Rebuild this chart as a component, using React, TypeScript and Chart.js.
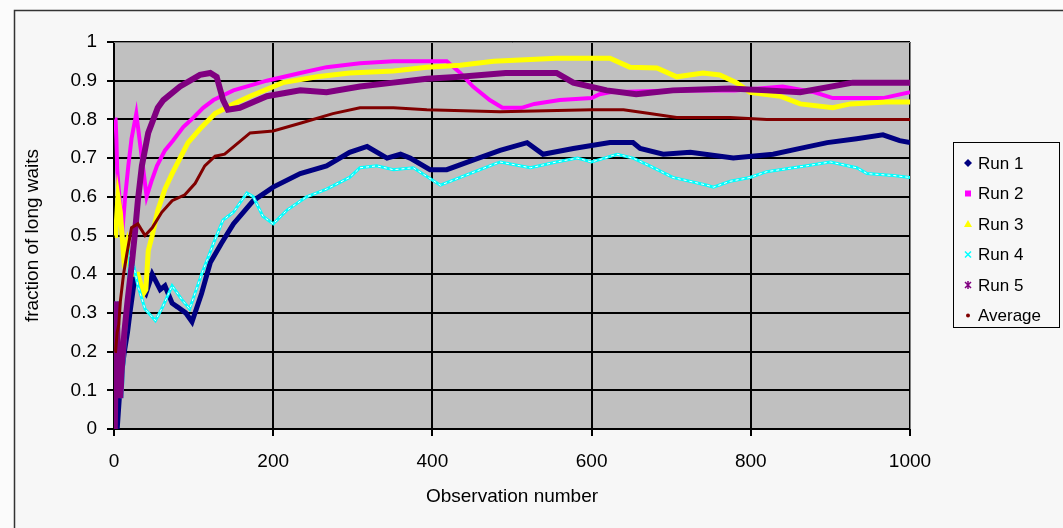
import React, { useEffect, useRef } from 'react';
import { Chart, registerables } from 'chart.js';

Chart.register(...registerables);

const FONT = "'Liberation Sans', Arial, sans-serif";

const seriesNames = ['Run 1', 'Run 2', 'Run 3', 'Run 4', 'Run 5', 'Average'];
const seriesColors = ['#000080', '#ff00ff', '#ffff00', '#00ffff', '#800080', '#800000'];
const xTickValues = [0, 200, 400, 600, 800, 1000];
const yTickValues = [0, 0.1, 0.2, 0.3, 0.4, 0.5, 0.6, 0.7, 0.8, 0.9, 1];
const xTitle = 'Observation number';
const yTitle = 'fraction of long waits';

const run1Obs = [1, 4, 8, 13, 17, 20, 26, 32, 40, 48, 53, 58, 64, 73, 80, 90, 98, 110, 121, 135, 150, 175, 200, 234, 267, 296, 318, 343, 360, 372, 397, 418, 451, 485, 519, 539, 577, 623, 652, 661, 690, 724, 778, 828, 862, 896, 933, 966, 987, 1000];
const run1Val = [0, 0, 0.12, 0.2, 0.25, 0.3, 0.39, 0.37, 0.35, 0.4, 0.38, 0.36, 0.37, 0.325, 0.315, 0.3, 0.277, 0.35, 0.43, 0.48, 0.53, 0.59, 0.625, 0.66, 0.68, 0.715, 0.73, 0.7, 0.71, 0.7, 0.67, 0.67, 0.695, 0.72, 0.74, 0.71, 0.725, 0.74, 0.74, 0.725, 0.71, 0.715, 0.7, 0.71, 0.725, 0.74, 0.75, 0.76, 0.745, 0.74];

const run2Obs = [1, 2, 3, 4, 6, 8, 10, 14, 18, 22, 28, 35, 41, 47, 54, 64, 74, 87, 100, 112, 125, 150, 192, 234, 267, 309, 351, 390, 418, 435, 451, 472, 488, 512, 528, 560, 600, 610, 623, 700, 780, 840, 880, 903, 933, 966, 1000];
const run2Val = [0.8, 0.8, 0.75, 0.67, 0.62, 0.57, 0.5, 0.6, 0.68, 0.75, 0.815, 0.7, 0.6, 0.64, 0.68, 0.72, 0.745, 0.78, 0.805, 0.83, 0.85, 0.875, 0.9, 0.92, 0.935, 0.945, 0.95, 0.95, 0.95, 0.92, 0.885, 0.85, 0.83, 0.83, 0.84, 0.85, 0.855, 0.865, 0.87, 0.875, 0.875, 0.885, 0.87, 0.855, 0.855, 0.855, 0.87];

const run3Obs = [1, 2, 5, 8, 12, 16, 20, 25, 30, 37, 40, 43, 48, 55, 64, 73, 83, 93, 110, 127, 150, 171, 212, 255, 296, 351, 393, 435, 477, 556, 623, 648, 682, 707, 740, 761, 782, 799, 837, 862, 903, 925, 970, 1000];
const run3Val = [0.5, 0.5, 0.6, 0.56, 0.45, 0.48, 0.42, 0.4, 0.4, 0.35, 0.36, 0.46, 0.5, 0.565, 0.62, 0.66, 0.7, 0.74, 0.78, 0.815, 0.84, 0.86, 0.895, 0.91, 0.92, 0.925, 0.935, 0.94, 0.95, 0.958, 0.958, 0.935, 0.933, 0.91, 0.92, 0.915, 0.895, 0.87, 0.86, 0.84, 0.83, 0.84, 0.845, 0.845];

const run4Obs = [1, 3, 6, 10, 15, 20, 25, 30, 39, 52, 61, 73, 85, 95, 110, 127, 137, 150, 167, 175, 187, 200, 217, 242, 267, 296, 309, 330, 351, 376, 410, 435, 472, 485, 523, 556, 582, 600, 632, 652, 673, 702, 745, 753, 774, 799, 820, 870, 900, 933, 946, 979, 1000];
const run4Val = [0, 0.33, 0.17, 0.08, 0.27, 0.45, 0.42, 0.37, 0.31, 0.28, 0.315, 0.37, 0.335, 0.31, 0.4, 0.49, 0.54, 0.56, 0.61, 0.6, 0.55, 0.53, 0.565, 0.6, 0.62, 0.65, 0.675, 0.68, 0.67, 0.675, 0.63, 0.65, 0.68, 0.69, 0.675, 0.69, 0.7, 0.69, 0.71, 0.7, 0.68, 0.65, 0.63, 0.625, 0.64, 0.65, 0.665, 0.68, 0.69, 0.675, 0.66, 0.655, 0.65];

const run5Obs = [1, 3, 5, 8, 10, 13, 17, 22, 26, 30, 35, 43, 55, 62, 83, 108, 121, 129, 137, 143, 158, 192, 234, 267, 309, 351, 393, 435, 492, 556, 577, 619, 656, 702, 774, 820, 862, 928, 1000];
const run5Val = [0, 0.33, 0.2, 0.08, 0.16, 0.25, 0.33, 0.42, 0.5, 0.59, 0.68, 0.765, 0.83, 0.85, 0.885, 0.915, 0.92, 0.91, 0.85, 0.825, 0.83, 0.86, 0.875, 0.87, 0.885, 0.895, 0.905, 0.91, 0.92, 0.92, 0.895, 0.875, 0.865, 0.875, 0.88, 0.875, 0.87, 0.895, 0.895];

const avgObs = [1, 2, 4, 6, 8, 12, 16, 22, 30, 39, 48, 60, 73, 89, 102, 114, 127, 139, 171, 200, 234, 275, 309, 351, 393, 485, 600, 640, 673, 707, 774, 820, 1000];
const avgVal = [0.2, 0.2, 0.25, 0.27, 0.33, 0.4, 0.45, 0.52, 0.53, 0.5, 0.52, 0.56, 0.59, 0.605, 0.635, 0.68, 0.705, 0.71, 0.765, 0.77, 0.79, 0.815, 0.83, 0.83, 0.825, 0.82, 0.825, 0.825, 0.815, 0.805, 0.805, 0.8, 0.8];

const toPoints = (xs: number[], ys: number[]) => xs.map((x, i) => ({ x, y: ys[i] }));

function drawMarker(ctx: CanvasRenderingContext2D, idx: number, x: number, y: number) {
  const c = seriesColors[idx];
  ctx.save();
  ctx.fillStyle = c;
  ctx.strokeStyle = c;
  ctx.lineWidth = 1.5;
  ctx.beginPath();
  if (idx === 0) {
    ctx.moveTo(x, y - 4); ctx.lineTo(x + 4, y); ctx.lineTo(x, y + 4); ctx.lineTo(x - 4, y); ctx.closePath(); ctx.fill();
  } else if (idx === 1) {
    ctx.fillRect(x - 3, y - 3, 6, 6);
  } else if (idx === 2) {
    ctx.moveTo(x, y - 4); ctx.lineTo(x + 4, y + 3); ctx.lineTo(x - 4, y + 3); ctx.closePath(); ctx.fill();
  } else if (idx === 3) {
    ctx.moveTo(x - 3, y - 3); ctx.lineTo(x + 3, y + 3); ctx.moveTo(x + 3, y - 3); ctx.lineTo(x - 3, y + 3); ctx.stroke();
  } else if (idx === 4) {
    ctx.moveTo(x - 3, y - 3); ctx.lineTo(x + 3, y + 3); ctx.moveTo(x + 3, y - 3); ctx.lineTo(x - 3, y + 3);
    ctx.moveTo(x, y - 4); ctx.lineTo(x, y + 4); ctx.stroke();
  } else {
    ctx.arc(x, y, 2, 0, Math.PI * 2); ctx.fill();
  }
  ctx.restore();
}

const decorPlugin = {
  id: 'decor',
  beforeDraw(chart: any) {
    const { ctx, chartArea: a, width, height } = chart;
    ctx.save();
    ctx.fillStyle = '#fbfbfb';
    ctx.fillRect(0, 0, width, height);
    ctx.fillStyle = '#f7f7f7';
    ctx.fillRect(14, 10, width, height);
    ctx.strokeStyle = '#333';
    ctx.lineWidth = 1.5;
    ctx.strokeRect(14.5, 10.5, width + 20, height + 20);
    ctx.fillStyle = '#c0c0c0';
    ctx.fillRect(a.left, a.top, a.right - a.left, a.bottom - a.top);
    ctx.restore();
  },
  afterDraw(chart: any) {
    const { ctx, chartArea: a } = chart;
    ctx.save();
    ctx.strokeStyle = '#808080';
    ctx.lineWidth = 1;
    ctx.beginPath();
    ctx.moveTo(a.left, a.top + 0.5);
    ctx.lineTo(a.right + 0.5, a.top + 0.5);
    ctx.lineTo(a.right + 0.5, a.bottom);
    ctx.stroke();
    const lx = 953, ly = 142, lw = 106, lh = 185;
    ctx.fillStyle = '#f7f7f7';
    ctx.fillRect(lx, ly, lw, lh);
    ctx.strokeStyle = '#000';
    ctx.lineWidth = 1;
    ctx.strokeRect(lx + 0.5, ly + 0.5, lw, lh);
    ctx.font = `17px ${FONT}`;
    ctx.textAlign = 'left';
    ctx.textBaseline = 'middle';
    seriesNames.forEach((name, i) => {
      const y = 163 + i * 30.5;
      drawMarker(ctx, i, 968, y);
      ctx.fillStyle = '#000';
      ctx.fillText(name, 978, y + 1);
    });
    ctx.restore();
  },
};

export default function App() {
  const ref = useRef<HTMLCanvasElement | null>(null);
  useEffect(() => {
    if (!ref.current) return;
    const widths = [5, 4, 5, 3, 6, 3];
    const obsList = [run1Obs, run2Obs, run3Obs, run4Obs, run5Obs, avgObs];
    const valList = [run1Val, run2Val, run3Val, run4Val, run5Val, avgVal];
    const orders = [6, 5, 4, 3, 2, 1];
    const datasets: any[] = seriesNames.map((name, i) => ({
      label: name,
      data: toPoints(obsList[i], valList[i]),
      borderColor: seriesColors[i],
      backgroundColor: seriesColors[i],
      borderWidth: widths[i],
      pointRadius: 0,
      tension: 0,
      fill: false,
      order: orders[i],
    }));
    datasets.push({
      label: 'Run 4 highlight',
      data: toPoints(run4Obs, run4Val),
      borderColor: '#ffffff',
      borderWidth: 1,
      borderDash: [3, 3],
      pointRadius: 0,
      tension: 0,
      fill: false,
      order: 2.9,
    });
    const tickFont = { family: FONT, size: 19 };
    const chart = new Chart(ref.current, {
      type: 'line',
      data: { datasets },
      options: {
        animation: false,
        responsive: false,
        devicePixelRatio: 1,
        layout: { padding: { left: 14, top: 42, right: 153, bottom: 0 } },
        plugins: { legend: { display: false }, tooltip: { enabled: false } },
        scales: {
          x: {
            type: 'linear',
            min: 0,
            max: 1000,
            afterBuildTicks: (s: any) => { s.ticks = xTickValues.map((v) => ({ value: v })); },
            afterFit: (s: any) => { s.height = 99; },
            ticks: { color: '#000', font: tickFont, padding: 14, maxRotation: 0, autoSkip: false, callback: (v: any) => String(v) },
            grid: { color: '#000', lineWidth: 2, tickLength: 7 },
            border: { color: '#000', width: 2 },
            title: { display: true, text: xTitle, color: '#000', font: { family: FONT, size: 19 }, padding: { top: 0, bottom: 20 } },
          },
          y: {
            type: 'linear',
            min: 0,
            max: 1,
            afterBuildTicks: (s: any) => { s.ticks = yTickValues.map((v) => ({ value: v })); },
            afterFit: (s: any) => { s.width = 100; },
            ticks: { color: '#000', font: tickFont, padding: 10, callback: (v: any) => String(Math.round(Number(v) * 10) / 10) },
            grid: { color: '#000', lineWidth: 2, tickLength: 7 },
            border: { color: '#000', width: 2 },
            title: { display: true, text: yTitle, color: '#000', font: { family: FONT, size: 19 }, padding: { top: 7, bottom: 0 } },
          },
        },
      },
      plugins: [decorPlugin],
    });
    return () => chart.destroy();
  }, []);
  return (
    <div style={{ position: 'fixed', left: 0, top: 0, width: 1063, height: 528 }}>
      <canvas ref={ref} width={1063} height={528} style={{ display: 'block', width: 1063, height: 528 }} />
    </div>
  );
}
